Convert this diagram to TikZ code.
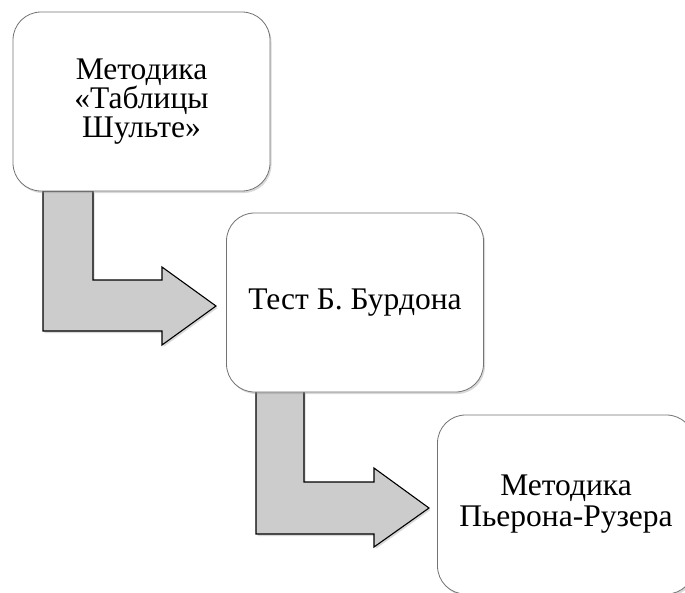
\documentclass[tikz,border=0pt]{standalone}
\usepackage{fontspec}
\setmainfont{Liberation Serif}
\usetikzlibrary{shadows}
\begin{document}
\begin{tikzpicture}[x=1pt,y=-1pt,
  stagebox/.style={draw=black!55, line width=0.8pt, fill=white, rounded corners=28pt,
    minimum width=257pt, minimum height=179pt, align=center, inner sep=0pt,
    font=\fontsize{31.5}{29}\selectfont,
    drop shadow={opacity=0.3, shadow xshift=1.5pt, shadow yshift=-2pt}},
  bentarrow/.style={draw=black, line width=1.1pt, fill=black!20, line join=miter,
    drop shadow={opacity=0.3, shadow xshift=1.5pt, shadow yshift=-2pt}}]
\useasboundingbox (0,0) rectangle (685,592);
% bent arrows
\draw[bentarrow] (43,191) -- (93,191) -- (93,280) -- (162,280) -- (162,267) -- (216,306)
  -- (162,345) -- (162,331) -- (43,331) -- cycle;
\draw[bentarrow] (256,391) -- (304,391) -- (304,482) -- (374,482) -- (374,468) -- (429,508)
  -- (374,547) -- (374,534) -- (256,534) -- cycle;
% boxes
\node[stagebox] (b1) at (141.5,101.5) {Методика\\«Таблицы\\Шульте»};
\node[stagebox] (b2) at (355,302.5) {Тест Б. Бурдона};
\node[stagebox, font=\fontsize{31.5}{31}\selectfont] (b3) at (566,504.5) {Методика\\Пьерона-Рузера};
\end{tikzpicture}
\end{document}
